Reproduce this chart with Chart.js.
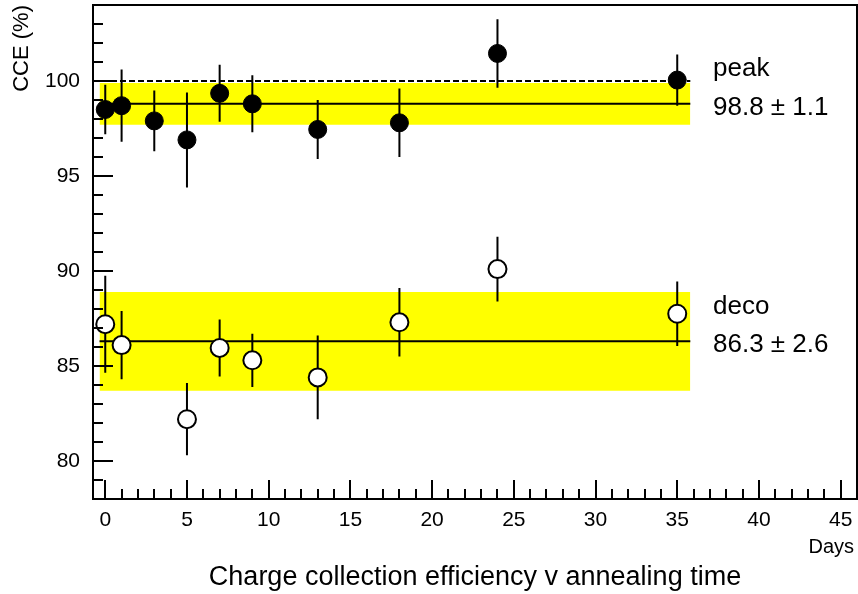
<!DOCTYPE html>
<html>
<head>
<meta charset="utf-8">
<script src="https://cdn.jsdelivr.net/npm/chart.js@4.4.0/dist/chart.umd.min.js"></script>
<style>
html, body { margin: 0; padding: 0; background: #fff; }
canvas { display: block; }
</style>
</head>
<body>
<canvas id="cceChart" width="858" height="594"></canvas>
<script>
// measured CCE (%) vs annealing days
const peakDays = [0, 1, 3, 5, 7, 9, 13, 18, 24, 35];
const peakCCE = [98.5, 98.7, 97.9, 96.9, 99.35, 98.8, 97.45, 97.8, 101.45, 100.05];
const peakErr = [1.3, 1.9, 1.6, 2.5, 1.5, 1.5, 1.55, 1.8, 1.8, 1.35];

const decoDays = [0, 1, 5, 7, 9, 13, 18, 24, 35];
const decoCCE = [87.2, 86.1, 82.2, 85.95, 85.3, 84.4, 87.3, 90.1, 87.75];
const decoErr = [2.55, 1.8, 1.9, 1.5, 1.4, 2.2, 1.8, 1.7, 1.7];

// mean +- spread bands
const peakMean = 98.8, peakSigma = 1.1;
const decoMean = 86.3, decoSigma = 2.6;
const bandDays = [-0.35, 35.8];
const refLine = 100;

const xTicks = [0, 5, 10, 15, 20, 25, 30, 35, 40, 45];
const yTicks = [80, 85, 90, 95, 100];
const xMin = -0.75, xMax = 46, yMin = 78, yMax = 104;

const FONT = "'Liberation Sans', Arial, Helvetica, sans-serif";

function errorBars(days, vals, errs) {
	const pts = [];
	days.forEach((d, i) => {
		pts.push({ x: d, y: vals[i] - errs[i] }, { x: d, y: vals[i] + errs[i] }, { x: d, y: null });
	});
	return pts;
}
function hline(x0, x1, y) {
	return [{ x: x0, y: y }, { x: x1, y: y }];
}
function points(days, vals) {
	return days.map((d, i) => ({ x: d, y: vals[i] }));
}

// frame, inner ticks and text labels
const decorations = {
	id: "decorations",
	afterDraw(chart) {
		const ctx = chart.ctx;
		const a = chart.chartArea;
		const xs = chart.scales.x, ys = chart.scales.y;
		ctx.save();
		ctx.strokeStyle = "#000";
		ctx.lineWidth = 2;
		ctx.strokeRect(a.left, a.top, a.right - a.left, a.bottom - a.top);

		ctx.beginPath();
		for (let v = Math.ceil(xMin); v <= xMax; v++) {
			const px = Math.round(xs.getPixelForValue(v));
			const len = v % 5 === 0 ? 19 : 10;
			ctx.moveTo(px, a.bottom);
			ctx.lineTo(px, a.bottom - len);
		}
		for (let v = Math.ceil(yMin); v <= yMax; v++) {
			const py = Math.round(ys.getPixelForValue(v));
			const len = v % 5 === 0 ? 20 : 10;
			ctx.moveTo(a.left, py);
			ctx.lineTo(a.left + len, py);
		}
		ctx.stroke();

		ctx.fillStyle = "#000";
		ctx.textBaseline = "alphabetic";
		ctx.textAlign = "left";
		ctx.font = "26px " + FONT;
		const lx = 713;
		const pm = ys.getPixelForValue(peakMean);
		ctx.fillText("peak", lx, pm - 28);
		ctx.fillText(peakMean.toFixed(1) + " \u00b1 " + peakSigma.toFixed(1), lx, pm + 11);
		const dm = ys.getPixelForValue(decoMean);
		ctx.fillText("deco", lx, dm - 27);
		ctx.fillText(decoMean.toFixed(1) + " \u00b1 " + decoSigma.toFixed(1), lx, dm + 11);

		ctx.font = "20px " + FONT;
		ctx.textAlign = "right";
		ctx.fillText("Days", 854, 553);
		ctx.restore();
	},
};

const myChart = new Chart(document.getElementById("cceChart").getContext("2d"), {
	type: "scatter",
	data: {
		datasets: [
			{
				data: points(peakDays, peakCCE),
				pointRadius: 9,
				pointBackgroundColor: "#000",
				pointBorderColor: "#000",
				pointBorderWidth: 1,
				showLine: false,
				order: 0,
			},
			{
				data: points(decoDays, decoCCE),
				pointRadius: 9,
				pointBackgroundColor: "#fff",
				pointBorderColor: "#000",
				pointBorderWidth: 2,
				showLine: false,
				order: 0,
			},
			{
				data: errorBars(peakDays, peakCCE, peakErr),
				showLine: true,
				spanGaps: false,
				borderColor: "#000",
				borderWidth: 2,
				pointRadius: 0,
				order: 1,
			},
			{
				data: errorBars(decoDays, decoCCE, decoErr),
				showLine: true,
				spanGaps: false,
				borderColor: "#000",
				borderWidth: 2,
				pointRadius: 0,
				order: 1,
			},
			{
				data: hline(bandDays[0], bandDays[1], peakMean),
				showLine: true,
				borderColor: "#000",
				borderWidth: 2,
				pointRadius: 0,
				order: 2,
			},
			{
				data: hline(bandDays[0], bandDays[1], decoMean),
				showLine: true,
				borderColor: "#000",
				borderWidth: 2,
				pointRadius: 0,
				order: 2,
			},
			{
				data: hline(xMin, bandDays[1], refLine),
				showLine: true,
				borderColor: "#000",
				borderWidth: 2,
				borderDash: [6, 3],
				pointRadius: 0,
				order: 2,
			},
			{
				data: hline(bandDays[0], bandDays[1], peakMean + peakSigma),
				showLine: true,
				borderWidth: 0,
				borderColor: "rgba(0,0,0,0)",
				backgroundColor: "#ffff00",
				fill: { value: peakMean - peakSigma },
				pointRadius: 0,
				order: 3,
			},
			{
				data: hline(bandDays[0], bandDays[1], decoMean + decoSigma),
				showLine: true,
				borderWidth: 0,
				borderColor: "rgba(0,0,0,0)",
				backgroundColor: "#ffff00",
				fill: { value: decoMean - decoSigma },
				pointRadius: 0,
				order: 3,
			},
		],
	},
	options: {
		responsive: false,
		animation: false,
		devicePixelRatio: 1,
		layout: { autoPadding: false, padding: { top: 5, right: 1, left: 0, bottom: 0 } },
		plugins: {
			legend: { display: false },
			tooltip: { enabled: false },
		},
		scales: {
			x: {
				type: "linear",
				min: xMin,
				max: xMax,
				afterBuildTicks: (s) => { s.ticks = xTicks.map((v) => ({ value: v })); },
				afterFit: (s) => {
					s.height = 95;
					s.paddingLeft = 0;
					s.paddingRight = 0;
				},
				grid: { display: false, drawTicks: false },
				border: { display: false },
				ticks: {
					color: "#000",
					font: { size: 21, family: FONT },
					padding: 9,
					maxRotation: 0,
					autoSkip: false,
				},
				title: {
					display: true,
					text: "Charge collection efficiency v annealing time",
					color: "#000",
					font: { size: 27, family: FONT },
					padding: { top: 0, bottom: 0 },
				},
			},
			y: {
				type: "linear",
				min: yMin,
				max: yMax,
				afterBuildTicks: (s) => { s.ticks = yTicks.map((v) => ({ value: v })); },
				afterFit: (s) => {
					s.width = 93;
					s.paddingTop = 0;
					s.paddingBottom = 0;
				},
				grid: { display: false, drawTicks: false },
				border: { display: false },
				ticks: {
					color: "#000",
					font: { size: 21, family: FONT },
					padding: 13,
				},
				title: {
					display: true,
					text: "CCE (%)",
					align: "end",
					color: "#000",
					font: { size: 22, family: FONT, lineHeight: 1 },
					padding: { top: 11, bottom: 0 },
				},
			},
		},
	},
	plugins: [decorations],
});
</script>
</body>
</html>
